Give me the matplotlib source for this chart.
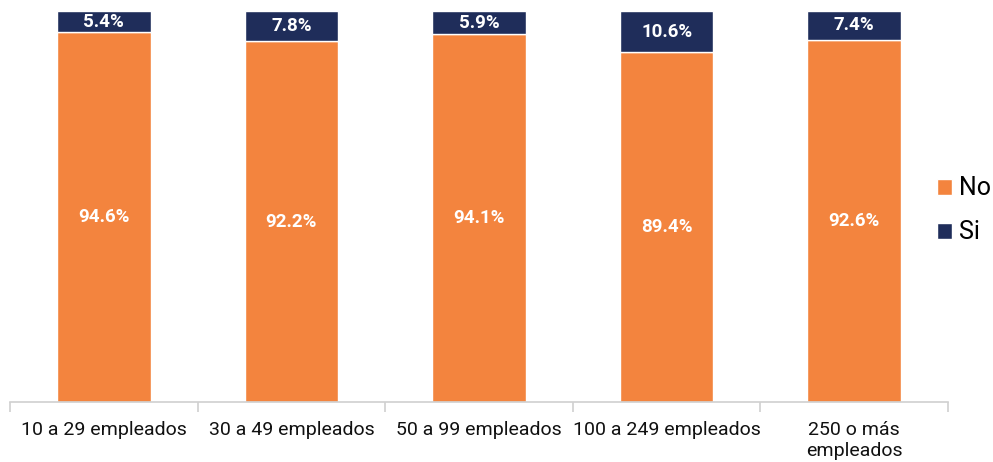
import matplotlib
matplotlib.use("Agg")
import matplotlib.pyplot as plt
import numpy as np

categorias = ["10 a 29 empleados", "30 a 49 empleados", "50 a 99 empleados",
              "100 a 249 empleados", "250 o más\nempleados"]
no_vals = [94.6, 92.2, 94.1, 89.4, 92.6]
si_vals = [5.4, 7.8, 5.9, 10.6, 7.4]

color_no = "#F3843E"
color_si = "#1F2D5A"

plt.rcParams['font.family'] = ['Roboto', 'DejaVu Sans']

fig = plt.figure(figsize=(9.93, 4.62), dpi=100)
ax = fig.add_axes([10/993, 60/462, 938/993, 391/462])

x = np.arange(len(categorias))
ax.bar(x, no_vals, width=0.5, color=color_no, edgecolor="white", linewidth=1, label="No")
ax.bar(x, si_vals, width=0.5, bottom=no_vals, color=color_si, edgecolor="white", linewidth=1, label="Si")

for i in range(len(x)):
    ax.text(x[i], no_vals[i] / 2, f"{no_vals[i]:.1f}%", ha="center", va="center",
            color="white", fontsize=13.5, fontweight="bold")
    ax.text(x[i], no_vals[i] + si_vals[i] / 2, f"{si_vals[i]:.1f}%", ha="center", va="center",
            color="white", fontsize=13.5, fontweight="bold")

ax.set_xlim(-0.5, len(x) - 0.5)
ax.set_ylim(0, 100)
ax.set_yticks([])
for s in ["top", "right", "left"]:
    ax.spines[s].set_visible(False)
ax.spines["bottom"].set_color("#D0D0D0")
ax.spines["bottom"].set_linewidth(1.2)

ax.set_xticks(x)
ax.set_xticklabels(categorias, fontsize=14, color="#111111", linespacing=1.2)
ax.tick_params(axis="x", which="major", length=0, pad=14)
ax.set_xticks(np.arange(-0.5, len(x)), minor=True)
ax.tick_params(axis="x", which="minor", length=7, width=1.2, color="#D0D0D0")

ax.legend(loc="center left", bbox_to_anchor=(0.988, 0.49), frameon=False,
          fontsize=18, handlelength=0.6, handleheight=0.6, handletextpad=0.3,
          labelspacing=0.8, borderpad=0, borderaxespad=0)

fig.savefig("out.png", dpi=100)
